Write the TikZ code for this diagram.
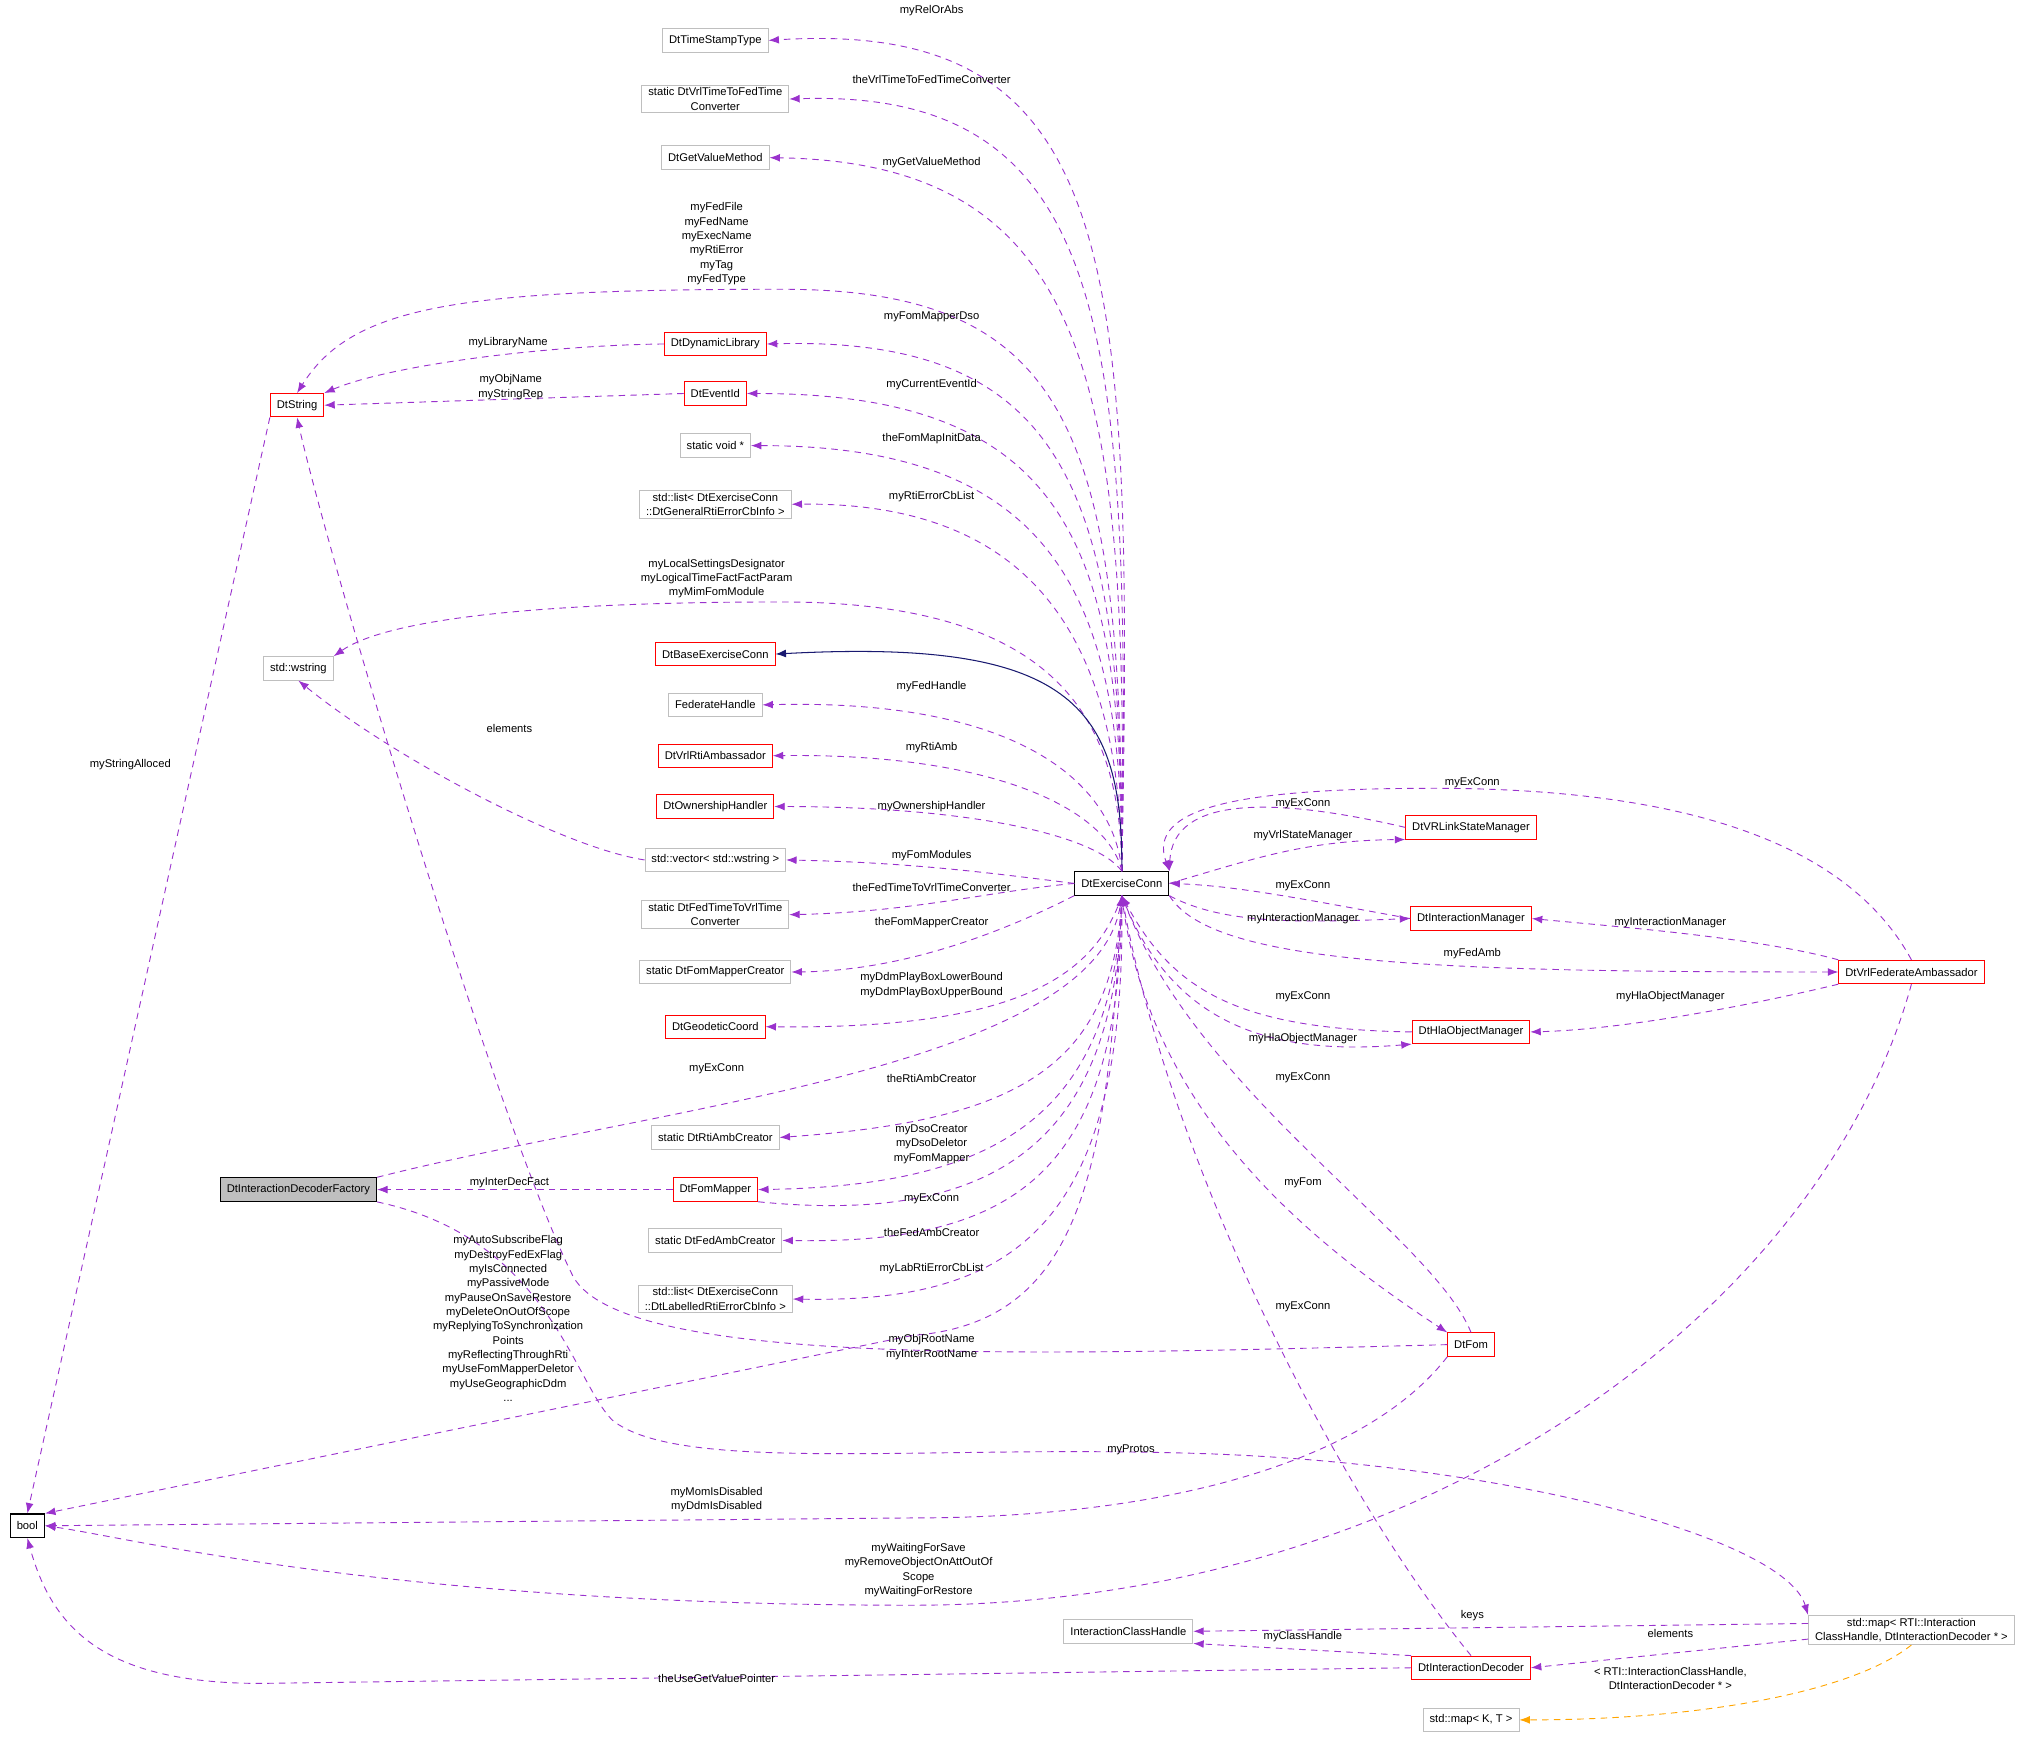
\documentclass[tikz,border=0pt]{standalone}
\usepackage{fontspec}
\setmainfont{Liberation Sans}
\usetikzlibrary{arrows.meta}
\definecolor{pur}{HTML}{9A32CD}
\definecolor{nav}{HTML}{191970}
\definecolor{org}{HTML}{FFA500}
\definecolor{gbox}{HTML}{BFBFBF}
\begin{document}
\begin{tikzpicture}[x=1pt,y=-1pt,
  every node/.style={font=\fontsize{8.6}{11}\selectfont, align=center},
  box/.style={draw, minimum height=18pt, inner xsep=5pt, inner ysep=2pt, line width=0.7pt},
  rb/.style={box, draw=red},
  gb/.style={box, draw=gbox},
  kb/.style={box, draw=black, line width=0.9pt},
  lab/.style={inner sep=0pt},
  e/.style={draw=pur, dashed, dash pattern=on 5pt off 4pt, line width=0.7pt, -{Latex[length=8pt,width=6pt]}},
  n/.style={draw=nav, line width=0.8pt, -{Latex[length=8pt,width=6pt]}},
  o/.style={draw=org, dashed, dash pattern=on 5pt off 4pt, line width=0.7pt, -{Latex[length=8pt,width=6pt]}}]
\useasboundingbox (0,0) rectangle (1568,1335);
% nodes
\node[gb] (tst) at (549,31) {DtTimeStampType};
\node[gb] (v2f) at (549,76) {static DtVrlTimeToFedTime\\Converter};
\node[gb] (gvm) at (549,121) {DtGetValueMethod};
\node[rb] (dyn) at (549,264) {DtDynamicLibrary};
\node[rb] (evt) at (549,302) {DtEventId};
\node[rb] (ds) at (228,311) {DtString};
\node[gb] (sv) at (549,342) {static void *};
\node[gb] (gl) at (549,387) {std::list< DtExerciseConn\\::DtGeneralRtiErrorCbInfo >};
\node[rb] (base) at (549,502) {DtBaseExerciseConn};
\node[gb] (ws) at (229,513) {std::wstring};
\node[gb] (fh) at (549,541) {FederateHandle};
\node[rb] (vra) at (549,580) {DtVrlRtiAmbassador};
\node[rb] (own) at (549,619) {DtOwnershipHandler};
\node[gb] (vec) at (549,660) {std::vector< std::wstring >};
\node[gb] (f2v) at (549,702) {static DtFedTimeToVrlTime\\Converter};
\node[gb] (fmc) at (549,746) {static DtFomMapperCreator};
\node[rb] (geo) at (549,788) {DtGeodeticCoord};
\node[gb] (rac) at (549,873) {static DtRtiAmbCreator};
\node[kb, fill=gbox] (fac) at (229,913) {DtInteractionDecoderFactory};
\node[rb] (fm) at (549,913) {DtFomMapper};
\node[gb] (fac2) at (549,952) {static DtFedAmbCreator};
\node[gb] (ll) at (549,997) {std::list< DtExerciseConn\\::DtLabelledRtiErrorCbInfo >};
\node[kb] (bool) at (21,1171) {bool};
\node[kb] (ec) at (861,678) {DtExerciseConn};
\node[rb] (vls) at (1129,635) {DtVRLinkStateManager};
\node[rb] (im) at (1129,705) {DtInteractionManager};
\node[rb] (fa) at (1467,746) {DtVrlFederateAmbassador};
\node[rb] (hla) at (1129,792) {DtHlaObjectManager};
\node[rb] (fom) at (1129,1032) {DtFom};
\node[gb] (smap) at (1467,1251) {std::map< RTI::Interaction\\ClassHandle, DtInteractionDecoder * >};
\node[gb] (ich) at (866,1252) {InteractionClassHandle};
\node[rb] (dec) at (1129,1280) {DtInteractionDecoder};
\node[gb] (kt) at (1129,1320) {std::map< K, T >};
% edges EC -> left column (upper)
\draw[e] (ec.north) .. controls (870,200) and (860,14) .. (tst.east);
\draw[e] (ec.north) .. controls (868,250) and (850,68) .. (v2f.east);
\draw[e] (ec.north) .. controls (866,300) and (840,125) .. (gvm.east);
\draw[e] (ec.north) .. controls (862,330) and (820,222) .. (600,222) .. controls (350,222) and (270,235) .. (ds.north);
\draw[e] (ec.north) .. controls (862,380) and (820,258) .. (dyn.east);
\draw[e] (ec.north) .. controls (862,420) and (820,302) .. (evt.east);
\draw[e] (ec.north) .. controls (862,460) and (810,342) .. (sv.east);
\draw[e] (ec.north) .. controls (860,500) and (800,385) .. (gl.east);
\draw[e] (ec.north) .. controls (860,560) and (820,462) .. (600,462) .. controls (380,462) and (290,480) .. (ws.north east);
\draw[n] (ec.north) .. controls (862,540) and (820,490) .. (base.east);
\draw[e] (ec.north) .. controls (855,600) and (780,536) .. (fh.east);
\draw[e] (ec.north) .. controls (850,620) and (760,578) .. (vra.east);
\draw[e] (ec.north) .. controls (840,640) and (740,619) .. (own.east);
\draw[e] (ec.west) .. controls (760,670) and (700,662) .. (vec.east);
\draw[e] (ec.west) .. controls (760,684) and (700,700) .. (f2v.east);
\draw[e] (ec.south west) .. controls (780,710) and (700,745) .. (fmc.east);
\draw[e] (ec.south) .. controls (840,750) and (780,790) .. (geo.east);
\draw[e] (ec.south) .. controls (855,820) and (780,860) .. (rac.east);
\draw[e] (ec.south) .. controls (855,860) and (760,910) .. (fm.east);
\draw[e] (ec.south) .. controls (860,900) and (780,955) .. (fac2.east);
\draw[e] (ec.south) .. controls (865,940) and (780,1000) .. (ll.east);
\draw[e] (fac.north east) .. controls (500,850) and (840,820) .. (ec.south);
\draw[e] (fm.south east) .. controls (760,940) and (855,880) .. (ec.south);
\draw[e] (fm.west) -- (fac.east);
\draw[e] (ec.south) .. controls (850,900) and (830,1015) .. (700,1025) -- (bool.north east);
% DtString related
\draw[e] (dyn.west) .. controls (420,265) and (300,280) .. (ds.north east);
\draw[e] (evt.west) -- (ds.east);
\draw[e] (ds.south west) -- (bool.north);
\draw[e] (vec.west) .. controls (430,650) and (300,580) .. (ws.south);
\draw[e] (fom.west) .. controls (800,1040) and (480,1050) .. (440,980) .. controls (380,860) and (250,420) .. (ds.south);
\draw[e] (fac.south east) .. controls (420,950) and (440,1060) .. (470,1090) .. controls (520,1130) and (700,1110) .. (900,1115) .. controls (1150,1120) and (1370,1180) .. (smap.north west);
% right side
\draw[e] (vls.west) .. controls (980,612) and (900,610) .. (ec.north east);
\draw[e] (ec.east) .. controls (960,660) and (1000,645) .. (vls.south west);
\draw[e] (im.west) .. controls (1000,690) and (950,680) .. (ec.east);
\draw[e] (ec.south east) .. controls (940,710) and (1000,708) .. (im.west);
\draw[e] (ec.south east) .. controls (930,740) and (1100,746) .. (fa.west);
\draw[e] (fa.north) .. controls (1420,650) and (1300,605) .. (1100,605) .. controls (950,605) and (880,620) .. (ec.north east);
\draw[e] (fa.north west) .. controls (1350,720) and (1250,712) .. (im.east);
\draw[e] (fa.south west) .. controls (1350,770) and (1250,790) .. (hla.east);
\draw[e] (hla.west) .. controls (950,790) and (900,760) .. (ec.south);
\draw[e] (ec.south) .. controls (900,790) and (980,810) .. (hla.south west);
\draw[e] (fom.north) .. controls (1100,950) and (920,840) .. (ec.south);
\draw[e] (ec.south) .. controls (880,850) and (1000,950) .. (fom.north west);
\draw[e] (dec.north) .. controls (1030,1150) and (900,900) .. (ec.south);
% to bool
\draw[e] (fom.south west) .. controls (1050,1120) and (900,1165) .. (700,1165) -- (bool.east);
\draw[e] (fa.south) .. controls (1400,1000) and (1100,1232) .. (700,1232) .. controls (300,1232) and (100,1180) .. (bool.east);
\draw[e] (dec.west) -- (200,1292) .. controls (80,1292) and (40,1250) .. (bool.south);
% map stuff
\draw[e] (smap.west |- 0,1246) -- (ich.east);
\draw[e] (smap.west |- 0,1258) -- (dec.east);
\draw[e] (dec.north west) -- (ich.south east);
\draw[o] (smap.south) .. controls (1420,1300) and (1300,1320) .. (kt.east);
% labels
\node[lab] (l1) at (715,8) {myRelOrAbs};
\node[lab] (l2) at (715,61) {theVrlTimeToFedTimeConverter};
\node[lab] (l3) at (715,125) {myGetValueMethod};
\node[lab] (l4) at (550,187) {myFedFile\\myFedName\\myExecName\\myRtiError\\myTag\\myFedType};
\node[lab] (l5) at (715,243) {myFomMapperDso};
\node[lab] (l6) at (390,263) {myLibraryName};
\node[lab] (l7) at (392,297) {myObjName\\myStringRep};
\node[lab] (l8) at (715,295) {myCurrentEventId};
\node[lab] (l9) at (715,337) {theFomMapInitData};
\node[lab] (l10) at (715,381) {myRtiErrorCbList};
\node[lab] (l11) at (550,444) {myLocalSettingsDesignator\\myLogicalTimeFactFactParam\\myMimFomModule};
\node[lab] (l12) at (715,527) {myFedHandle};
\node[lab] (l13) at (715,574) {myRtiAmb};
\node[lab] (l14) at (715,619) {myOwnershipHandler};
\node[lab] (l15) at (715,657) {myFomModules};
\node[lab] (l16) at (715,681) {theFedTimeToVrlTimeConverter};
\node[lab] (l17) at (715,708) {theFomMapperCreator};
\node[lab] (l18) at (715,756) {myDdmPlayBoxLowerBound\\myDdmPlayBoxUpperBound};
\node[lab] (l19) at (550,820) {myExConn};
\node[lab] (l20) at (715,828) {theRtiAmbCreator};
\node[lab] (l21) at (715,878) {myDsoCreator\\myDsoDeletor\\myFomMapper};
\node[lab] (l22) at (715,920) {myExConn};
\node[lab] (l23) at (391,908) {myInterDecFact};
\node[lab] (l24) at (715,946) {theFedAmbCreator};
\node[lab] (l25) at (715,974) {myLabRtiErrorCbList};
\node[lab] (l26) at (391,559) {elements};
\node[lab] (l27) at (100,587) {myStringAlloced};
\node[lab] (l28) at (390,1012) {myAutoSubscribeFlag\\myDestroyFedExFlag\\myIsConnected\\myPassiveMode\\myPauseOnSaveRestore\\myDeleteOnOutOfScope\\myReplyingToSynchronization\\Points\\myReflectingThroughRti\\myUseFomMapperDeletor\\myUseGeographicDdm\\...};
\node[lab] (l29) at (715,1034) {myObjRootName\\myInterRootName};
\node[lab] (l30) at (868,1113) {myProtos};
\node[lab] (l31) at (550,1151) {myMomIsDisabled\\myDdmIsDisabled};
\node[lab] (l32) at (705,1205) {myWaitingForSave\\myRemoveObjectOnAttOutOf\\Scope\\myWaitingForRestore};
\node[lab] (l33) at (550,1288) {theUseGetValuePointer};
\node[lab] (l34) at (1130,1240) {keys};
\node[lab] (l35) at (1282,1254) {elements};
\node[lab] (l36) at (1000,1256) {myClassHandle};
\node[lab] (l37) at (1282,1288) {< RTI::InteractionClassHandle,\\DtInteractionDecoder * >};
\node[lab] (l38) at (1000,1003) {myExConn};
\node[lab] (l39) at (1000,908) {myFom};
\node[lab] (l40) at (1000,827) {myExConn};
\node[lab] (l41) at (1000,797) {myHlaObjectManager};
\node[lab] (l42) at (1000,765) {myExConn};
\node[lab] (l43) at (1130,732) {myFedAmb};
\node[lab] (l44) at (1000,705) {myInteractionManager};
\node[lab] (l45) at (1000,680) {myExConn};
\node[lab] (l46) at (1000,641) {myVrlStateManager};
\node[lab] (l47) at (1000,617) {myExConn};
\node[lab] (l48) at (1130,601) {myExConn};
\node[lab] (l49) at (1282,708) {myInteractionManager};
\node[lab] (l50) at (1282,765) {myHlaObjectManager};
\end{tikzpicture}
\end{document}
